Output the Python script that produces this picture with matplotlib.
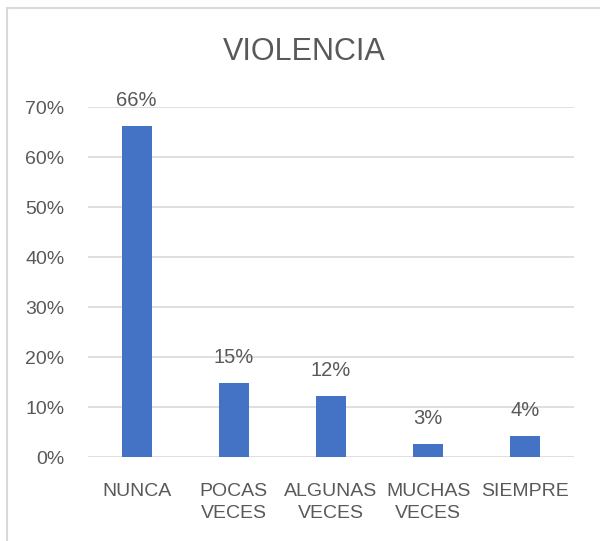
import matplotlib
matplotlib.use("Agg")
import matplotlib.pyplot as plt
import matplotlib.patches as mpatches
from matplotlib.ticker import FuncFormatter, MultipleLocator

categories = ["NUNCA", "POCAS\nVECES", "ALGUNAS\nVECES", "MUCHAS\nVECES", "SIEMPRE"]
values = [0.662, 0.148, 0.122, 0.026, 0.042]
title = "VIOLENCIA"

text_color = "#595959"
grid_color = "#d9d9d9"
bar_color = "#4472C4"

plt.rcParams['font.family'] = ['Liberation Sans', 'DejaVu Sans']

fig = plt.figure(figsize=(6.0, 5.41), dpi=100)
ax = fig.add_axes([88 / 600, 1 - 457 / 541, (574 - 88) / 600, (457 - 107) / 541])

x = range(len(categories))
bars = ax.bar(x, values, width=0.31, color=bar_color, zorder=3)

# data labels
for xi, v in zip(x, values):
    ax.annotate(f"{v * 100:.0f}%", (xi, v), xytext=(0, 11.5), textcoords="offset points",
                ha="center", va="bottom", fontsize=14.5, color=text_color)

ax.set_xlim(-0.5, len(categories) - 0.5)
ax.set_ylim(0, 0.7)
ax.yaxis.set_major_locator(MultipleLocator(0.1))
ax.yaxis.set_major_formatter(FuncFormatter(lambda y, _: f"{y * 100:.0f}%"))
ax.grid(axis="y", color=grid_color, linewidth=1.2, zorder=0)
ax.set_axisbelow(True)

ax.set_xticks(list(x))
ax.set_xticklabels(categories, fontsize=14, color=text_color, linespacing=1.35)
ax.tick_params(axis="x", length=0, pad=19)
ax.tick_params(axis="y", length=0, pad=17, labelsize=14, labelcolor=text_color)

for s in ax.spines.values():
    s.set_visible(False)

fig.text(304 / 600, 1 - 52 / 541, title, ha="center", va="center", fontsize=22, color=text_color)

# outer chart border (right and bottom cut off in the reference)
border = mpatches.Rectangle((7 / 600, -0.1), 1.2, 1 - 8 / 541 + 0.1, transform=fig.transFigure,
                            fill=False, edgecolor=grid_color, linewidth=1.5)
fig.patches.append(border)

fig.savefig("out.png", dpi=100, facecolor="white")
